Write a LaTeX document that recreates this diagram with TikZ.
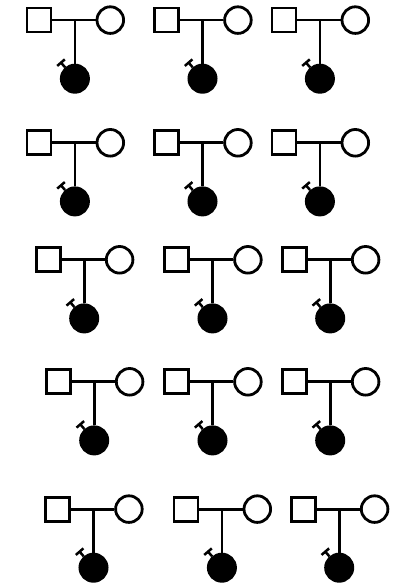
\documentclass[tikz,border=0pt]{standalone}
\usetikzlibrary{arrows.meta,calc}

\tikzset{
  pedline/.style={line width=2.8pt, black},
  male/.style={draw, line width=2.8pt, rectangle, minimum size=24pt, inner sep=0pt, fill=white},
  female/.style={draw, line width=2.8pt, circle, minimum size=26.6pt, inner sep=0pt, fill=white},
  affected/.style={draw, fill=black, line width=2.8pt, circle, minimum size=27.2pt, inner sep=0pt},
  probarrow/.style={line width=2.5pt, {Bar[width=10pt]}-},
}

% One nuclear family: father (square), mother (circle), affected daughter
% marked as proband. Arguments: name prefix, left x, top y.
\newcommand\pedunit[3]{%
  \node[male]     (#1m) at (#2+13.2, #3+12.8) {};
  \node[female]   (#1f) at (#2+84.6, #3+12.8) {};
  \coordinate     (#1d) at (#2+49.2, #3+12.8);
  \node[affected] (#1c) at (#2+49.2, #3+71.4) {};
  \coordinate     (#1p) at ($(#1c.center)+(-14.7,-17)$);
  \draw[pedline] (#1m) -- (#1f);
  \draw[pedline] (#1d) -- (#1c);
  \draw[probarrow] (#1p) -- (#1c);
}

\begin{document}
\begin{tikzpicture}[x=1pt, y=-1pt]
  \useasboundingbox (0,0) rectangle (394,583);
  % row 1
  \pedunit{a1}{25.7}{7.3}
  \pedunit{a2}{153.3}{7.3}
  \pedunit{a3}{270.7}{7.3}
  % row 2
  \pedunit{b1}{25.7}{130}
  \pedunit{b2}{153.3}{130}
  \pedunit{b3}{270.7}{130}
  % row 3
  \pedunit{c1}{35}{247}
  \pedunit{c2}{163.3}{247}
  \pedunit{c3}{281}{247}
  % row 4
  \pedunit{d1}{45}{369}
  \pedunit{d2}{163.3}{369}
  \pedunit{d3}{281}{369}
  % row 5
  \pedunit{e1}{44.3}{496.3}
  \pedunit{e2}{172.7}{496.3}
  \pedunit{e3}{290}{496.3}
\end{tikzpicture}
\end{document}
